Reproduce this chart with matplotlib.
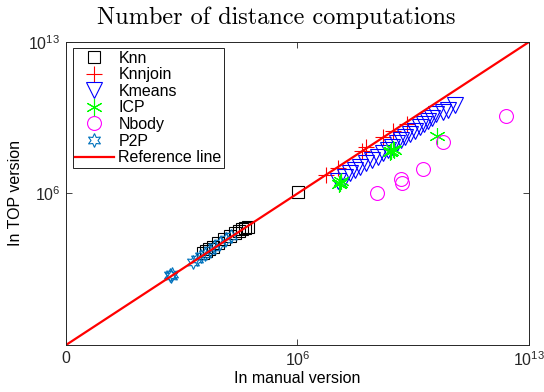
import matplotlib.pyplot as plt
import numpy as np

plt.rcParams['font.family'] = ['Liberation Sans', 'DejaVu Sans']
plt.rcParams['mathtext.default'] = 'regular'

# log10 of the distance computation counts (manual, TOP)
knn_x = [6.02, 3.14, 3.23, 3.32, 3.44, 3.60, 3.78, 3.96, 4.11, 4.23, 4.32, 4.41, 4.50]
knn_y = [6.07, 3.25, 3.34, 3.44, 3.53, 3.71, 3.90, 4.04, 4.18, 4.27, 4.36, 4.41, 4.45]

knnjoin_x = [6.86, 7.22, 7.95, 8.07, 8.59, 8.89, 9.31]
knnjoin_y = [6.86, 7.18, 7.96, 8.15, 8.61, 8.89, 9.21]

kmeans_x = [7.22, 7.44, 7.59, 7.74, 7.89, 8.07, 8.25, 8.43, 8.59, 8.74, 8.86, 9.01,
            9.13, 9.25, 9.40, 9.55, 9.70, 9.83, 9.95, 10.07, 10.19, 10.40, 10.55, 10.76]
kmeans_y = [6.58, 6.76, 6.95, 7.09, 7.23, 7.41, 7.55, 7.69, 7.87, 8.01, 8.15, 8.33,
            8.47, 8.61, 8.75, 8.89, 9.07, 9.21, 9.35, 9.49, 9.67, 9.77, 9.86, 10.09]

icp_x = [7.29, 7.32, 7.26, 8.83, 8.89, 8.80, 8.92, 10.22]
icp_y = [6.49, 6.58, 6.44, 7.96, 8.05, 7.91, 8.00, 8.66]

nbody_x = [8.40, 9.13, 9.16, 9.80, 10.40, 12.30]
nbody_y = [6.02, 6.67, 6.49, 7.13, 8.38, 9.58]

p2p_x = [2.14, 2.17, 2.20, 2.84, 2.96, 3.08, 3.20, 3.35, 3.48, 3.66, 3.84, 3.99]
p2p_y = [2.23, 2.18, 2.27, 2.84, 2.97, 3.11, 3.21, 3.39, 3.53, 3.71, 3.90, 4.04]

lo, hi = -1, 13

fig = plt.figure(figsize=(5.44, 3.92), dpi=100)
ax = fig.add_axes([0.1213, 0.1199, 0.8511, 0.7730])

def p(v):
    return 10.0 ** np.array(v)

ms_kw = dict(linestyle='none', mfc='none', mew=0.8)
ax.plot(p(knn_x), p(knn_y), marker='s', color='k', ms=8, label='Knn', **ms_kw)
ax.plot(p(knnjoin_x), p(knnjoin_y), marker='+', color='r', ms=11, label='Knnjoin', **ms_kw)
ax.plot(p(kmeans_x), p(kmeans_y), marker='v', color='b', ms=11, label='Kmeans', **ms_kw)
ax.plot(p(icp_x), p(icp_y), marker=(6, 2, 0), color='#00ff00', ms=12, label='ICP', **ms_kw)
ax.plot(p(nbody_x), p(nbody_y), marker='o', color='#ff00ff', ms=10, label='Nbody', **ms_kw)
ax.plot(p(p2p_x), p(p2p_y), marker=(6, 1, 0), color='#0072BD', ms=10, label='P2P', **ms_kw)
ax.plot([10.0 ** lo, 10.0 ** hi], [10.0 ** lo, 10.0 ** hi], color='r', lw=1.6,
        label='Reference line')

ax.set_xscale('log')
ax.set_yscale('log')
ax.set_xlim(10.0 ** lo, 10.0 ** hi)
ax.set_ylim(10.0 ** lo, 10.0 ** hi)
ax.set_xticks([10.0 ** lo, 1e6, 1e13])
ax.set_xticklabels(['0', '$10^{6}$', '$10^{13}$'])
ax.set_yticks([1e6, 1e13])
ax.set_yticklabels(['$10^{6}$', '$10^{13}$'])
ax.minorticks_off()
ax.tick_params(direction='in', length=4, width=0.6, top=True, right=True,
               labelsize=11.5, colors='#262626', pad=4)
for s in ax.spines.values():
    s.set_linewidth(0.7)
    s.set_color('#262626')

ax.set_xlabel('In manual version', fontsize=11.5, labelpad=1)
ax.set_ylabel('In TOP version', fontsize=11.5, labelpad=4)
fig.text(276 / 544, 1 - 18 / 392, 'Number of distance computations', fontfamily='cmr10',
         fontsize=17.5, ha='center', va='center')

leg = ax.legend(loc='upper left', bbox_to_anchor=(0.008, 0.99), fontsize=11.5,
                frameon=True, fancybox=False, edgecolor='k', framealpha=1,
                borderpad=0.15, labelspacing=0.1, handlelength=2.4,
                handletextpad=0.3, borderaxespad=0.2)
leg.get_frame().set_linewidth(0.6)

fig.savefig('out.png', dpi=100)
